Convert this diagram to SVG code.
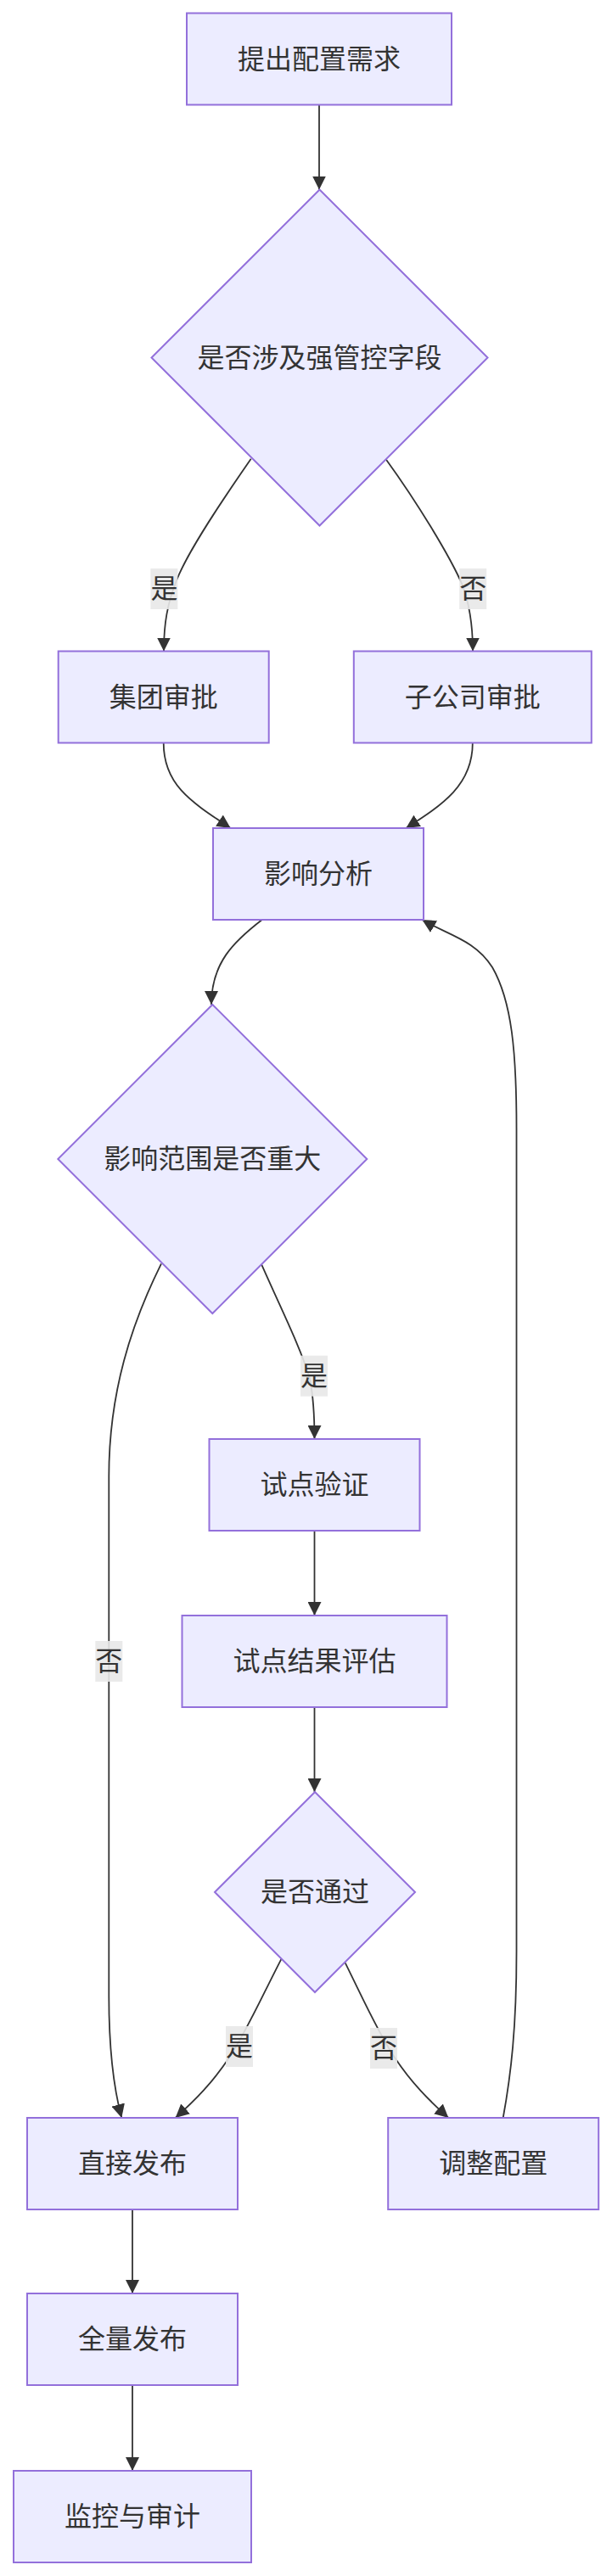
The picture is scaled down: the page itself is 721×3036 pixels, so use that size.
<svg xmlns="http://www.w3.org/2000/svg" width="721" height="3036" viewBox="0 0 721 3036">
<style>
.node rect, .node polygon { fill: #ECECFF; stroke: #9370DB; stroke-width: 2; }
.lbl { font-family: "Liberation Sans", "Noto Sans CJK SC", sans-serif; font-size: 32px; fill: #333333; text-anchor: middle; dominant-baseline: central; }
.edge { fill: none; stroke: #333333; stroke-width: 1.8; }
.elbg { fill: #e8e8e8; fill-opacity: 0.9; }
</style>
<defs>
<marker id="arrow" viewBox="0 0 10 10" refX="10" refY="5" markerWidth="16" markerHeight="16" markerUnits="userSpaceOnUse" orient="auto">
<path d="M0,0 L10,5 L0,10 z" fill="#333333"/>
</marker>
</defs>
<rect width="721" height="3036" fill="#ffffff"/>
<g id="connectors">
<path class="edge" marker-end="url(#arrow)" d="M376,123.5 L376,223.5"/>
<path class="edge" marker-end="url(#arrow)" d="M295.7,540.7 C265,585 222,648 208,684 C197,712 193,735 193,767.5"/>
<path class="edge" marker-end="url(#arrow)" d="M455,541.7 C490,590 530,655 545,690 C553,712 557,735 557,767.5"/>
<path class="edge" marker-end="url(#arrow)" d="M192.7,875.5 C192.7,925 225,945 271.7,976"/>
<path class="edge" marker-end="url(#arrow)" d="M556.8,875.5 C556.8,925 522,948 478.3,976"/>
<path class="edge" marker-end="url(#arrow)" d="M308.7,1084 C275,1110 249,1135 249,1184"/>
<path class="edge" marker-end="url(#arrow)" d="M308.3,1490.7 C330,1540 355,1590 365,1625 C369,1645 370.5,1665 370.5,1696"/>
<path class="edge" marker-end="url(#arrow)" d="M190,1489.3 C155,1560 128.3,1640 128.3,1740 L128.3,2353 C128.3,2420 135,2465 143.3,2496"/>
<path class="edge" marker-end="url(#arrow)" d="M370.5,1804 L370.5,1904"/>
<path class="edge" marker-end="url(#arrow)" d="M370.5,2012 L370.5,2112"/>
<path class="edge" marker-end="url(#arrow)" d="M331.7,2308.3 C310,2350 290,2395 270,2425 C250,2455 230,2475 206.7,2496"/>
<path class="edge" marker-end="url(#arrow)" d="M406.7,2313.3 C425,2350 445,2395 465,2425 C485,2455 505,2475 528.3,2496"/>
<path class="edge" marker-end="url(#arrow)" d="M592.7,2496 C602,2445 608.5,2390 608.5,2300 L608.5,1330 C608.5,1240 603,1180 580,1140 C560,1108 528,1102 497.3,1084"/>
<path class="edge" marker-end="url(#arrow)" d="M156,2604 L156,2703"/>
<path class="edge" marker-end="url(#arrow)" d="M156,2811 L156,2912"/>
<rect class="elbg" x="177.4" y="670" width="32" height="48"/>
<text class="lbl" x="193.4" y="694">是</text>
<rect class="elbg" x="541.2" y="670" width="32" height="48"/>
<text class="lbl" x="557.2" y="694">否</text>
<rect class="elbg" x="354" y="1597.7" width="32" height="48"/>
<text class="lbl" x="370" y="1621.7">是</text>
<rect class="elbg" x="112.3" y="1934" width="32" height="48"/>
<text class="lbl" x="128.3" y="1958">否</text>
<rect class="elbg" x="266" y="2388" width="32" height="48"/>
<text class="lbl" x="282" y="2412">是</text>
<rect class="elbg" x="436" y="2390" width="32" height="48"/>
<text class="lbl" x="452" y="2414">否</text>
</g>
<g id="n1" class="node"><rect x="220" y="15.5" width="312" height="108"/><text class="lbl" x="376" y="69.5">提出配置需求</text></g>
<g id="n2" class="node"><polygon points="376.5,223.5 574.5,421.5 376.5,619.5 178.5,421.5"/><text class="lbl" x="376.5" y="421.5">是否涉及强管控字段</text></g>
<g id="n3" class="node"><rect x="68.7" y="767.5" width="248" height="108"/><text class="lbl" x="192.7" y="821.5">集团审批</text></g>
<g id="n4" class="node"><rect x="416.8" y="767.5" width="280" height="108"/><text class="lbl" x="556.8" y="821.5">子公司审批</text></g>
<g id="n5" class="node"><rect x="251" y="976" width="248" height="108"/><text class="lbl" x="375" y="1030">影响分析</text></g>
<g id="n6" class="node"><polygon points="250.3,1184 432.3,1366 250.3,1548 68.3,1366"/><text class="lbl" x="250.3" y="1366">影响范围是否重大</text></g>
<g id="n7" class="node"><rect x="246.5" y="1696" width="248" height="108"/><text class="lbl" x="370.5" y="1750">试点验证</text></g>
<g id="n8" class="node"><rect x="214.5" y="1904" width="312" height="108"/><text class="lbl" x="370.5" y="1958">试点结果评估</text></g>
<g id="n9" class="node"><polygon points="371,2112 489,2230 371,2348 253,2230"/><text class="lbl" x="371" y="2230">是否通过</text></g>
<g id="n10" class="node"><rect x="32" y="2496" width="248" height="108"/><text class="lbl" x="156" y="2550">直接发布</text></g>
<g id="n11" class="node"><rect x="457.2" y="2496" width="248" height="108"/><text class="lbl" x="581.2" y="2550">调整配置</text></g>
<g id="n12" class="node"><rect x="32" y="2703" width="248" height="108"/><text class="lbl" x="156" y="2757">全量发布</text></g>
<g id="n13" class="node"><rect x="16" y="2912" width="280" height="108"/><text class="lbl" x="156" y="2966">监控与审计</text></g>
</svg>
